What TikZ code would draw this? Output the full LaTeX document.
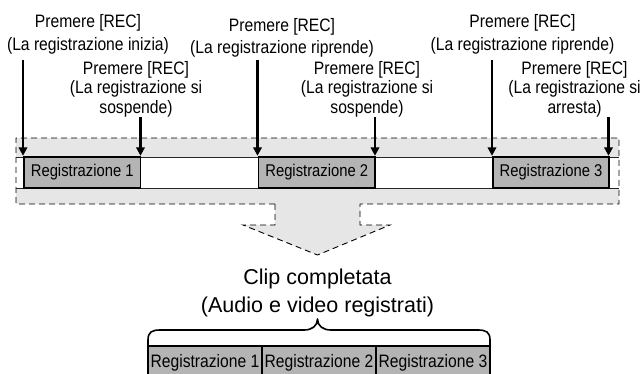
\documentclass[tikz,border=0pt]{standalone}
\usepackage{fontspec}
\setmainfont{Liberation Sans}
\newfontfamily\narrowf{Liberation Sans}[FakeStretch=0.87]
\usetikzlibrary{arrows.meta}
\definecolor{regiongray}{HTML}{E6E6E6}
\definecolor{boxgray}{HTML}{B4B4B4}
\tikzset{
  x=1pt, y=-1pt,
  regbox/.style={draw=black, line width=1.9pt, fill=boxgray, inner sep=0pt,
    minimum width=116.5pt, minimum height=31.5pt,
    font=\narrowf\fontsize{17}{18}\selectfont},
  clipbox/.style={draw=black, line width=1.9pt, fill=boxgray, inner sep=0pt,
    minimum width=114pt, minimum height=33.4pt,
    font=\narrowf\fontsize{18}{19}\selectfont},
  lbltwo/.style={align=center, inner sep=0pt, anchor=north,
    font=\narrowf\fontsize{18}{22.3}\selectfont},
  lblthree/.style={align=center, inner sep=0pt, anchor=north,
    font=\narrowf\fontsize{18}{19.4}\selectfont},
  pressarrow/.style={line width=2.1pt, -{Triangle[width=8.5pt,length=8.5pt]}},
  dashedoutline/.style={draw=black, line width=0.9pt, dash pattern=on 6pt off 4pt},
}
\begin{document}
\begin{tikzpicture}
\useasboundingbox (0,0) rectangle (643,374);
\clip (0,0) rectangle (643,374);
% gray region and big arrow fill
\fill[regiongray] (16,138) rectangle (619,204.5);
\fill[regiongray] (275,203) -- (275,225) -- (243,225) -- (317.5,255) -- (390,225) -- (360,225) -- (360,203) -- cycle;
% white band
\fill[white] (16,157) rectangle (619,188);
% dashed outline
\draw[dashedoutline] (275,204) -- (16,204) -- (16,138) -- (619,138) -- (619,204) -- (360,204)
  -- (360,225) -- (390,225) -- (317.5,255) -- (243,225) -- (275,225) -- cycle;
% band lines
\draw[line width=0.9pt, black!85] (16,157) -- (619,157);
\draw[line width=0.9pt, black!85] (16,188) -- (619,188);
% recording boxes
\node[regbox] (r1) at (82.25,172.5) {Registrazione 1};
\node[regbox] (r2) at (316.75,172.5) {Registrazione 2};
\node[regbox] (r3) at (551,172.5) {Registrazione 3};
% labels
\node[lbltwo] (l1) at (88,14.5) {Premere [REC]\\(La registrazione inizia)};
\node[lblthree] (l2) at (136,61) {Premere [REC]\\(La registrazione si\\sospende)};
\node[lbltwo] (l3) at (282,17.8) {Premere [REC]\\(La registrazione riprende)};
\node[lblthree] (l4) at (367,61) {Premere [REC]\\(La registrazione si\\sospende)};
\node[lbltwo] (l5) at (522.5,14.5) {Premere [REC]\\(La registrazione riprende)};
\node[lblthree] (l6) at (574.5,61) {Premere [REC]\\(La registrazione si\\arresta)};
% arrow starts
\coordinate (s1) at (23,60);
\coordinate (s2) at (140.5,117);
\coordinate (s3) at (257.5,60);
\coordinate (s4) at (375,117);
\coordinate (s5) at (492,60);
\coordinate (s6) at (608.5,117);
\draw[pressarrow] (s1) -- (s1 |- r1.north);
\draw[pressarrow] (s2) -- (s2 |- r1.north);
\draw[pressarrow] (s3) -- (s3 |- r2.north);
\draw[pressarrow] (s4) -- (s4 |- r2.north);
\draw[pressarrow] (s5) -- (s5 |- r3.north);
\draw[pressarrow] (s6) -- (s6 |- r3.north);
% result text
\node[align=center, inner sep=0pt, anchor=north, font=\fontsize{21.5}{28.5}\selectfont]
  (clip) at (317.5,268.5) {Clip completata\\(Audio e video registrati)};
% final clip boxes
\node[clipbox] (c1) at (205,362.4) {Registrazione 1};
\node[clipbox] (c2) at (319,362.4) {Registrazione 2};
\node[clipbox] (c3) at (433,362.4) {Registrazione 3};
% brace
\draw[line width=1.6pt, line join=round]
  (148,346) -- (148,340) .. controls (148,332) and (152,330) .. (160,330)
  -- (304,330) .. controls (312,330) and (317.5,326) .. (317.5,319)
  .. controls (317.5,326) and (323,330) .. (331,330)
  -- (478,330) .. controls (486,330) and (490,332) .. (490,340) -- (490,346);
\end{tikzpicture}
\end{document}
